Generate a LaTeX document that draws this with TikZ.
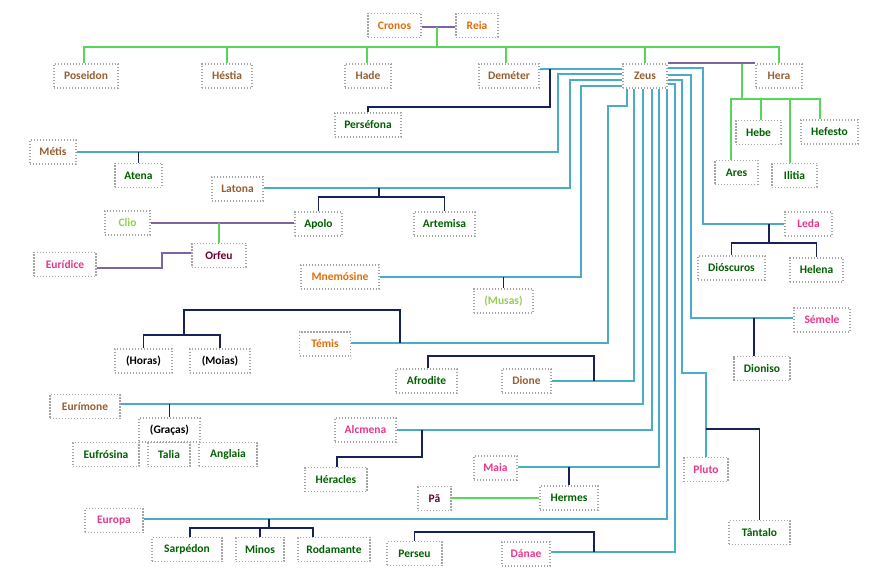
\documentclass[tikz,border=0pt]{standalone}
\usepackage{fontspec}
\setmainfont{Carlito}
\definecolor{orangeT}{RGB}{227,108,10}
\definecolor{brownT}{RGB}{150,95,50}
\definecolor{dkgreenT}{RGB}{0,97,0}
\definecolor{ltgreenT}{RGB}{146,208,80}
\definecolor{pinkT}{RGB}{232,54,140}
\definecolor{maroonT}{RGB}{102,0,51}
\definecolor{boxgray}{RGB}{165,165,165}
\definecolor{cyanL}{RGB}{75,172,198}
\definecolor{navyL}{RGB}{23,33,90}
\definecolor{greenL}{RGB}{88,214,88}
\definecolor{purpL}{RGB}{128,100,162}
\tikzset{
  pbox/.style={draw=boxgray, dash pattern=on 1.3pt off 1.7pt, line width=1.3pt, inner sep=0pt,
    minimum height=24pt, font=\bfseries\fontsize{11.5}{13}\selectfont},
  cyl/.style={draw=cyanL, line width=1.7pt},
  nvl/.style={draw=navyL, line width=1.7pt},
  grl/.style={draw=greenL, line width=1.7pt},
  pul/.style={draw=purpL, line width=1.7pt},
}
\newcommand{\pn}[6]{\node[pbox, minimum width=#4pt, text=#5] (#1) at (#2,#3) {#6};}
\begin{document}
\begin{tikzpicture}[x=1pt,y=-1pt]
\fill[white] (0,0) rectangle (876,580);
\useasboundingbox (0,0) rectangle (876,580);
% nodes
\pn{Cronos}{394.5}{25.5}{53}{orangeT}{Cronos}
\pn{Reia}{477}{25.5}{42}{orangeT}{Reia}
\pn{Poseidon}{86}{76}{64}{brownT}{Poseidon}
\pn{Hestia}{227}{76}{50}{brownT}{Héstia}
\pn{Hade}{368}{76}{46}{brownT}{Hade}
\pn{Demeter}{509}{76}{60}{brownT}{Deméter}
\pn{Zeus}{645}{76}{44}{brownT}{Zeus}
\pn{Hera}{779}{76}{46}{brownT}{Hera}
\pn{Persefona}{368}{125}{66}{dkgreenT}{Perséfona}
\pn{Metis}{53}{152}{46}{brownT}{Métis}
\pn{Atena}{138.5}{175.5}{47}{dkgreenT}{Atena}
\pn{Hebe}{758.5}{132.5}{45}{dkgreenT}{Hebe}
\pn{Hefesto}{829.5}{132}{57}{dkgreenT}{Hefesto}
\pn{Ares}{736.5}{172.5}{43}{dkgreenT}{Ares}
\pn{Ilitia}{794.5}{175.5}{45}{dkgreenT}{Ilitia}
\pn{Latona}{237.5}{189}{51}{brownT}{Latona}
\pn{Apolo}{318.5}{224}{47}{dkgreenT}{Apolo}
\pn{Artemisa}{444.5}{224}{61}{dkgreenT}{Artemisa}
\pn{Clio}{127.5}{223}{45}{ltgreenT}{Clio}
\pn{Orfeu}{219}{255.5}{54}{maroonT}{Orfeu}
\pn{Euridice}{65}{264.5}{62}{pinkT}{Eurídice}
\pn{Mnemosine}{340}{277}{78}{orangeT}{Mnemósine}
\pn{Musas}{503.5}{301}{59}{ltgreenT}{(Musas)}
\pn{Leda}{808.5}{224}{47}{pinkT}{Leda}
\pn{Dioscuros}{731.5}{268}{67}{dkgreenT}{Dióscuros}
\pn{Helena}{816.5}{270}{53}{dkgreenT}{Helena}
\pn{Semele}{822}{320}{56}{pinkT}{Sémele}
\pn{Dioniso}{762}{368.5}{56}{dkgreenT}{Dioniso}
\pn{Horas}{143.5}{361}{57}{black}{(Horas)}
\pn{Moias}{220}{361}{60}{black}{(Moias)}
\pn{Temis}{325}{344}{51}{orangeT}{Témis}
\pn{Afrodite}{426.5}{381}{61}{dkgreenT}{Afrodite}
\pn{Dione}{526.5}{381}{49}{brownT}{Dione}
\pn{Eurimone}{85}{406.5}{70}{brownT}{Eurímone}
\pn{Gracas}{169.5}{430}{61}{black}{(Graças)}
\pn{Eufrosina}{106}{454.5}{66}{dkgreenT}{Eufrósina}
\pn{Talia}{169}{454.5}{42}{dkgreenT}{Talia}
\pn{Anglaia}{228}{454.5}{58}{dkgreenT}{Anglaia}
\pn{Alcmena}{365.5}{430}{61}{pinkT}{Alcmena}
\pn{Heracles}{336}{479.5}{62}{dkgreenT}{Héracles}
\pn{Maia}{495.5}{468}{43}{pinkT}{Maia}
\pn{Hermes}{569}{498}{58}{dkgreenT}{Hermes}
\pn{Pa}{434.5}{498.5}{33}{maroonT}{Pã}
\pn{Pluto}{706}{469.5}{44}{pinkT}{Pluto}
\pn{Tantalo}{759.5}{532.5}{61}{dkgreenT}{Tântalo}
\pn{Europa}{114}{520.5}{58}{pinkT}{Europa}
\pn{Sarpedon}{187}{549.5}{70}{dkgreenT}{Sarpédon}
\pn{Minos}{260}{549.5}{48}{dkgreenT}{Minos}
\pn{Rodamante}{334}{549.5}{72}{dkgreenT}{Rodamante}
\pn{Perseu}{414.5}{553.5}{55}{dkgreenT}{Perseu}
\pn{Danae}{526}{554}{48}{pinkT}{Dánae}
% Cronos + Reia
\draw[pul] (Cronos.east |- 0,27) -- (Reia.west |- 0,27);
\coordinate (cr) at (437,27);
\draw[grl] (cr) -- (437,47);
\draw[grl] (Poseidon.north -| 84,0) |- (Hera.north |- 0,47) -- (Hera.north);
\foreach \n/\x in {Hestia/227,Hade/367,Demeter/506,Zeus/645}
  \draw[grl] (\x,47) -- (\n.north -| \x,0);
% Zeus + Hera
\draw[pul] (Zeus.north east) -- (Hera.north west);
\coordinate (zh) at (742,64);
\draw[grl] (zh) -- (742,99);
\draw[grl] (Ares.north -| 731,0) |- (820,99) -- (Hefesto.north -| 820,0);
\draw[grl] (761,99) -- (Hebe.north -| 761,0);
\draw[grl] (790,99) -- (Ilitia.north -| 790,0);
% Zeus + Demeter
\draw[cyl] (Demeter.east |- 0,69) -- (Zeus.west |- 0,69);
\coordinate (dz) at (550,69);
\draw[nvl] (dz) -- (550,107) -| (Persefona.north);
% Zeus left side
\draw[cyl] (Zeus.west |- 0,74) -| (558,152) -- (Metis.east);
\draw[nvl] (Atena.north |- 0,152) -- (Atena.north);
\draw[cyl] (Zeus.west |- 0,80) -| (570,188) -- (Latona.east |- 0,188);
\draw[nvl] (379,188) -- (379,197);
\draw[nvl] (Apolo.north) |- (Artemisa.north |- 0,197) -- (Artemisa.north);
\draw[cyl] (Zeus.west |- 0,86) -| (581,277) -- (Mnemosine.east);
\draw[nvl] (Musas.north |- 0,277) -- (Musas.north);
% Zeus bottom
\draw[cyl] (Zeus.south -| 627,0) |- (608,106) -- (608,343) -- (Temis.east |- 0,343);
\draw[nvl] (400,343) -- (400,310) -| (184,335);
\draw[nvl] (Horas.north) |- (Moias.north |- 0,335) -- (Moias.north);
\draw[cyl] (Zeus.south -| 634,0) |- (Dione.east);
\draw[nvl] (594,381) |- (428,356) -- (Afrodite.north -| 428,0);
\draw[cyl] (Zeus.south -| 643,0) |- (Eurimone.east |- 0,404);
\draw[nvl] (Gracas.north |- 0,404) -- (Gracas.north);
\draw[cyl] (Zeus.south -| 652,0) |- (Alcmena.east);
\draw[nvl] (422,430) |- (337,457) -- (Heracles.north -| 337,0);
\draw[cyl] (Zeus.south -| 659,0) |- (Maia.east |- 0,467);
\draw[nvl] (Hermes.north |- 0,467) -- (Hermes.north);
\draw[grl] (Pa.east |- Hermes.west) -- (Hermes.west);
\draw[cyl] (Zeus.south -| 667,0) |- (Europa.east |- 0,519);
\draw[nvl] (269,519) -- (269,528);
\draw[nvl] (Sarpedon.north -| 190,0) |- (313,528) -- (Rodamante.north -| 313,0);
\draw[nvl] (Minos.north |- 0,528) -- (Minos.north);
% Zeus right side
\draw[cyl] (Zeus.east |- 0,68) -| (703,224) -- (Leda.west);
\draw[nvl] (769,224) -- (769,243);
\draw[nvl] (Dioscuros.north) |- (Helena.north |- 0,243) -- (Helena.north);
\draw[cyl] (Zeus.east |- 0,75) -| (691,318) -- (Semele.west |- 0,318);
\draw[nvl] (754,318) -- (Dioniso.north -| 754,0);
\draw[cyl] (Zeus.east |- 0,80) -| (682,373) -| (Pluto.north);
\draw[nvl] (Pluto.north |- 0,429) -| (Tantalo.north);
\draw[cyl] (Zeus.east |- 0,84) -| (675,552) -- (Danae.east |- 0,552);
\draw[nvl] (594,552) |- (Perseu.north |- 0,532) -- (Perseu.north);
% Clio, Orfeu, Euridice
\draw[pul] (Clio.east) -- (Apolo.west |- Clio.east);
\draw[grl] (219,223) -- (Orfeu.north);
\draw[pul] (Euridice.east |- 0,268) -| (162,253) -- (Orfeu.west |- 0,253);
\end{tikzpicture}
\end{document}
